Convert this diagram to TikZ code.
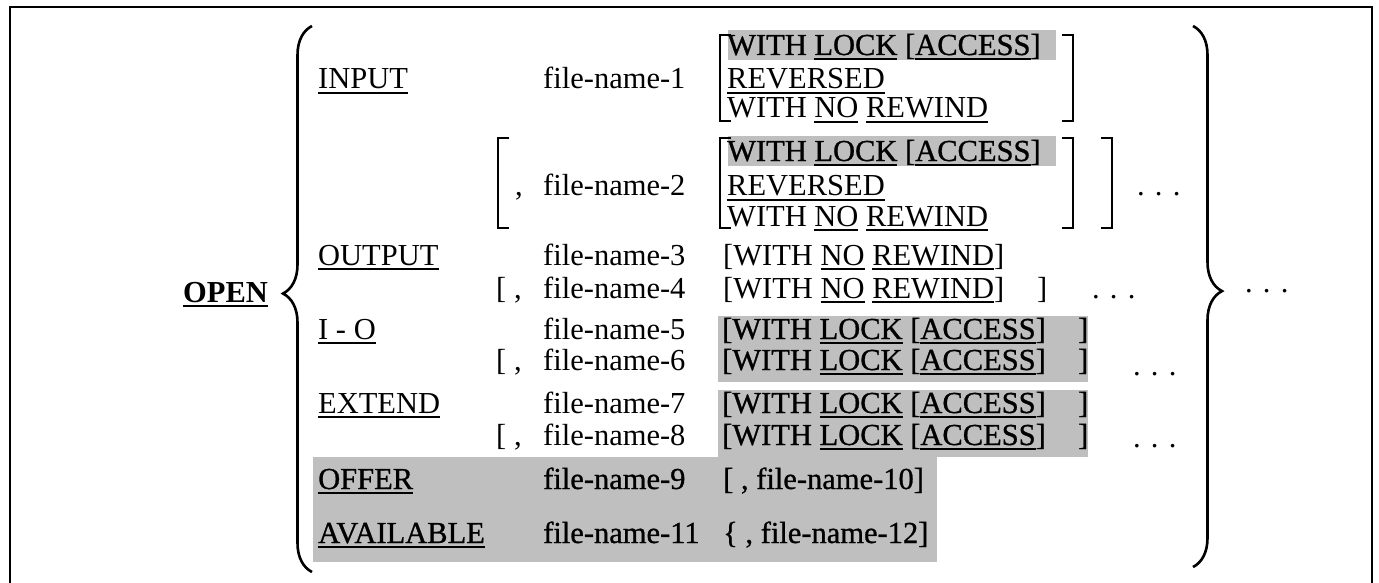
\documentclass[tikz,border=0pt]{standalone}
\usepackage{fontspec}
\setmainfont{Liberation Serif}
\newfontfamily\heavy{Liberation Serif}[FakeBold=0.9]
\usepackage{tikz}
\usetikzlibrary{decorations.pathreplacing}
\newcommand{\syn}{\fontsize{30.5}{32}\selectfont}
\newcommand{\undl}[1]{\leavevmode\vtop{\hbox{#1}\kern2.5pt\hrule height 2pt}}

\begin{document}
\begin{tikzpicture}[x=1pt, y=-1pt,
  every node/.style={font=\syn, inner sep=0pt, anchor=base west},
  onshade/.style={font={\heavy\syn}},
  boxline/.style={line width=2pt},
  halftone/.style={fill=black!25, draw=none},
  brk/.style={line width=2.6pt},
  brc/.style={decorate, decoration={brace, amplitude=29pt, aspect=#1}, line width=2.6pt},
  brc/.default=0.5
]
  \useasboundingbox (0,0) rectangle (1379,583);

  % --- Frame ---
  \draw[boxline] (10,583) -- (10,7) -- (1372,7) -- (1372,583);

  % --- Shaded additions ---
  \fill[halftone] (728,30) rectangle (1056,60);
  \fill[halftone] (728,136) rectangle (1056,166);
  \fill[halftone] (718,316) rectangle (1088,382);
  \fill[halftone] (718,390) rectangle (1088,457);
  \fill[halftone] (313,457) rectangle (937,562);

  % --- OPEN and the outer braces ---
  \node (open) at (183,302) {\bfseries\undl{OPEN}};
  \draw[brc=0.51] (312,572) -- (312,26);
  \draw[brc=0.49] (1193,26) -- (1193,567);
  \node (more) at (1245,292) {. . .};

  % --- INPUT ---
  \node (input) at (318,89) {\undl{INPUT}};
  \node (fn1) at (543,89) {file-name-1};
  \draw[brk] (731,35) -- (720,35) -- (720,121) -- (731,121);
  \node[onshade] (lock1) at (727,55) {WITH \undl{LOCK} [\undl{ACCESS}]};
  \node (rev1) at (727,89) {\undl{REVERSED}};
  \node (norew1) at (727,118) {WITH \undl{NO} \undl{REWIND}};
  \draw[brk] (1062,35) -- (1073,35) -- (1073,121) -- (1062,121);

  \draw[brk] (509,138) -- (498,138) -- (498,228) -- (509,228);
  \node (comma2) at (515,196) {,};
  \node (fn2) at (543,196) {file-name-2};
  \draw[brk] (731,138) -- (720,138) -- (720,228) -- (731,228);
  \node[onshade] (lock2) at (727,161) {WITH \undl{LOCK} [\undl{ACCESS}]};
  \node (rev2) at (727,196) {\undl{REVERSED}};
  \node (norew2) at (727,226) {WITH \undl{NO} \undl{REWIND}};
  \draw[brk] (1062,138) -- (1073,138) -- (1073,228) -- (1062,228);
  \draw[brk] (1101,138) -- (1112,138) -- (1112,228) -- (1101,228);
  \node (more2) at (1137,196) {. . .};

  % --- OUTPUT ---
  \node (output) at (318,265) {\undl{OUTPUT}};
  \node (fn3) at (543,265) {file-name-3};
  \node (norew3) at (723,265) {[WITH \undl{NO} \undl{REWIND}]};
  \node (open4) at (496,298) {[};
  \node (comma4) at (514,298) {,};
  \node (fn4) at (543,298) {file-name-4};
  \node (norew4) at (723,298) {[WITH \undl{NO} \undl{REWIND}]};
  \node (close4) at (1037,298) {]};
  \node (more4) at (1092,298) {. . .};

  % --- I-O ---
  \node (io) at (318,339) {\undl{I - O}};
  \node (fn5) at (543,339) {file-name-5};
  \node[onshade] (lock5) at (722,339) {[WITH \undl{LOCK} [\undl{ACCESS}]};
  \node[onshade] (close5) at (1078,339) {]};
  \node (open6) at (496,370) {[};
  \node (comma6) at (514,370) {,};
  \node (fn6) at (543,370) {file-name-6};
  \node[onshade] (lock6) at (722,370) {[WITH \undl{LOCK} [\undl{ACCESS}]};
  \node[onshade] (close6) at (1078,370) {]};
  \node (more6) at (1133,375) {. . .};

  % --- EXTEND ---
  \node (extend) at (318,413) {\undl{EXTEND}};
  \node (fn7) at (543,413) {file-name-7};
  \node[onshade] (lock7) at (722,413) {[WITH \undl{LOCK} [\undl{ACCESS}]};
  \node[onshade] (close7) at (1078,413) {]};
  \node (open8) at (496,445) {[};
  \node (comma8) at (514,445) {,};
  \node (fn8) at (543,445) {file-name-8};
  \node[onshade] (lock8) at (722,445) {[WITH \undl{LOCK} [\undl{ACCESS}]};
  \node[onshade] (close8) at (1078,445) {]};
  \node (more8) at (1133,447) {. . .};

  % --- OFFER / AVAILABLE ---
  \node[onshade] (offer) at (318,489) {\undl{OFFER}};
  \node[onshade] (fn9) at (543,489) {file-name-9};
  \node[onshade] (fn10) at (723,489) {[ , file-name-10]};
  \node[onshade] (avail) at (318,543) {\undl{AVAILABLE}};
  \node[onshade] (fn11) at (543,543) {file-name-11};
  \node[onshade] (fn12) at (723,543) {\{ , file-name-12]};

\end{tikzpicture}
\end{document}
